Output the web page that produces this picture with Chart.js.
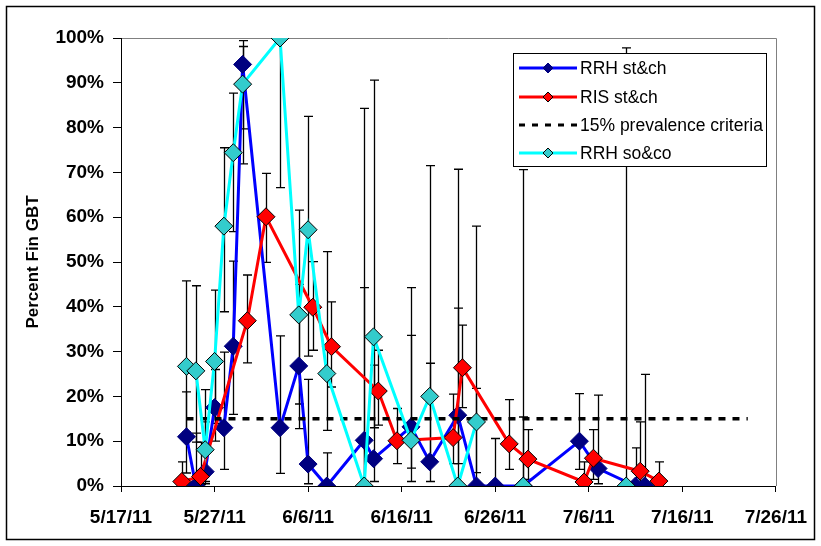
<!DOCTYPE html>
<html>
<head>
    <title>Percent Fin GBT</title>
    <script src="https://cdn.jsdelivr.net/npm/chart.js@4"></script>
    <style>
        body {
            margin: 0;
            background: #fff;
        }
        #wrap {
            width: 821px;
            height: 546px;
        }
    </style>
</head>
<body>
    <div id="wrap"><canvas id="chart" width="821" height="546"></canvas></div>

    <script>
        // x values are days after 5/17/11
        const xTickLabels = ["5/17/11", "5/27/11", "6/6/11", "6/16/11", "6/26/11", "7/6/11", "7/16/11", "7/26/11"];

        // RRH st&ch
        const rrhStDays   = [7, 8, 9, 10, 11, 12, 13, 17, 19, 20, 22, 26, 27, 31, 33, 36, 38, 40, 43, 49, 51, 55, 56];
        const rrhStValues = [11.0, 0, 3.2, 17.5, 13.0, 31.2, 94.1, 13.0, 26.8, 4.9, 0, 10.2, 6.1, 13.2, 5.4, 15.8, 0, 0, 0, 10.0, 3.9, 0, 0];
        const rrhStLow    = [2.9, null, 0.5, 10, 3.7, 16.0, 79.7, 2.8, 12.8, 0.5, null, 1, 1, 4, 1, 5, null, null, null, 3.7, 0.5, null, null];
        const rrhStHigh   = [21, 11.8, 14.3, 26, 29.9, 50.2, 99.4, 33.5, 45, 23.8, 7.4, 44.3, 27, 33.6, 27.4, 39.7, 21.8, 10.6, 15.4, 20.6, 20.3, 8.5, 24.9];

        // RIS st&ch
        const risStDays   = [6.5, 8.5, 13.5, 15.5, 20.5, 22.5, 27.5, 29.5, 35.5, 36.5, 41.5, 43.5, 49.5, 50.5, 55.5, 57.5];
        const risStValues = [1.0, 2.1, 36.9, 60.1, 39.9, 31.1, 21.2, 10.1, 10.8, 26.4, 9.4, 6.0, 0.9, 6.2, 3.3, 1.1];
        const risStLow    = [null, 0.3, 27.5, 49.9, 30.3, 22.1, 13.6, 5.0, 5.0, 17.5, 3.7, 1.5, null, 1.5, 0.5, null];
        const risStHigh   = [5.4, 9.8, 47.1, 69.8, 50.1, 41.1, 30.3, 17.3, 20.5, 35.9, 19.3, 12.6, 5.4, 12.6, 14.3, 5.4];

        // RRH so&co (null = no sample, line breaks)
        const rrhSoDays   = [7, 8, 9, 10, 11, 12, 13, 17, 19, 20, 22, 26, 27, 31, 33, 36, 38, 40, 43, 50, 54];
        const rrhSoValues = [26.7, 25.7, 8.1, 27.8, 58.0, 74.4, 89.7, 100, 38.2, 57.2, 25.1, 0, 33.3, 10.2, 20.0, 0, 14.3, null, 0, null, 0];
        const rrhSoLow    = [12, 9.8, 1, 14, 38.9, 56.8, 71.9, 66.6, 18.3, 29.0, 12.4, null, 13, 1, 5, null, 3, null, null, null, null];
        const rrhSoHigh   = [45.8, 44.7, 21.5, 43.7, 75.5, 87.7, 98.1, null, 61.6, 82.5, 52.3, 84.3, 90.6, 44.3, 71.5, 70.7, 58, null, 70.6, null, 97.8];

        // 15% prevalence criteria
        const criteriaDays = [7, 67];
        const criteriaLevel = 15;

        const FONT = "'Liberation Sans', Arial, sans-serif";

        function toPoints(days, values) {
            return days.map((d, i) => ({ x: d, y: values[i] }));
        }

        const errorSets = [
            { days: rrhStDays, low: rrhStLow, high: rrhStHigh },
            { days: risStDays, low: risStLow, high: risStHigh },
            { days: rrhSoDays, low: rrhSoLow, high: rrhSoHigh }
        ];

        const framePlugin = {
            id: "frame",
            beforeDraw(chart) {
                const ctx = chart.ctx;
                const a = chart.chartArea;
                ctx.save();
                ctx.fillStyle = "#fff";
                ctx.fillRect(0, 0, chart.width, chart.height);
                ctx.strokeStyle = "#000";
                ctx.lineWidth = 1.5;
                ctx.strokeRect(6.5, 6.5, 808, 533);
                ctx.strokeStyle = "#808080";
                ctx.lineWidth = 1;
                ctx.beginPath();
                ctx.moveTo(a.left, Math.round(a.top) + 0.5);
                ctx.lineTo(Math.round(a.right) + 0.5, Math.round(a.top) + 0.5);
                ctx.lineTo(Math.round(a.right) + 0.5, a.bottom);
                ctx.stroke();
                ctx.restore();
            }
        };

        const errorBarPlugin = {
            id: "errorBars",
            beforeDatasetsDraw(chart) {
                const ctx = chart.ctx;
                const xs = chart.scales.x, ys = chart.scales.y;
                ctx.save();
                ctx.strokeStyle = "#000";
                ctx.lineWidth = 1.3;
                errorSets.forEach(set => {
                    set.days.forEach((d, i) => {
                        const lo = set.low[i], hi = set.high[i];
                        if (lo === null && hi === null) return;
                        const px = Math.round(xs.getPixelForValue(d)) + 0.5;
                        const v = lo === null ? 0 : lo;
                        const top = ys.getPixelForValue(hi === null ? 100 : hi);
                        const bot = ys.getPixelForValue(v);
                        ctx.beginPath();
                        ctx.moveTo(px, top);
                        ctx.lineTo(px, bot);
                        if (hi !== null) {
                            ctx.moveTo(px - 4.5, top);
                            ctx.lineTo(px + 4.5, top);
                        }
                        if (lo !== null) {
                            ctx.moveTo(px - 4.5, bot);
                            ctx.lineTo(px + 4.5, bot);
                        }
                        ctx.stroke();
                    });
                });
                ctx.restore();
            }
        };

        const legendItems = [
            { text: "RRH st&ch", line: "#0000FF", fill: "#000080", stroke: "#000080" },
            { text: "RIS st&ch", line: "#FF0000", fill: "#FF0000", stroke: "#000" },
            { text: "15% prevalence criteria", dashed: true },
            { text: "RRH so&co", line: "#00FFFF", fill: "#33CCCC", stroke: "#000" }
        ];

        const legendPlugin = {
            id: "boxLegend",
            afterDraw(chart) {
                const ctx = chart.ctx;
                ctx.save();
                ctx.fillStyle = "#fff";
                ctx.fillRect(513, 53, 253, 113);
                ctx.strokeStyle = "#000";
                ctx.lineWidth = 1;
                ctx.strokeRect(513.5, 53.5, 253, 113);
                const rows = [68, 97, 125, 153];
                legendItems.forEach((it, i) => {
                    const y = rows[i];
                    ctx.beginPath();
                    ctx.lineWidth = 3;
                    if (it.dashed) {
                        ctx.strokeStyle = "#000";
                        ctx.setLineDash([6, 7]);
                    } else {
                        ctx.strokeStyle = it.line;
                        ctx.setLineDash([]);
                    }
                    ctx.moveTo(519, y);
                    ctx.lineTo(577, y);
                    ctx.stroke();
                    ctx.setLineDash([]);
                    if (!it.dashed) {
                        const r = 5;
                        ctx.beginPath();
                        ctx.moveTo(548 - r, y);
                        ctx.lineTo(548, y - r);
                        ctx.lineTo(548 + r, y);
                        ctx.lineTo(548, y + r);
                        ctx.closePath();
                        ctx.fillStyle = it.fill;
                        ctx.fill();
                        ctx.lineWidth = 1;
                        ctx.strokeStyle = it.stroke;
                        ctx.stroke();
                    }
                    ctx.fillStyle = "#000";
                    ctx.font = "17.5px " + FONT;
                    ctx.textBaseline = "middle";
                    ctx.textAlign = "left";
                    ctx.fillText(it.text, 580, y + 1);
                });
                ctx.restore();
            }
        };

        const ctx = document.getElementById("chart").getContext("2d");
        new Chart(ctx, {
            type: "line",
            data: {
                datasets: [
                    {
                        label: "RRH so&co",
                        data: toPoints(rrhSoDays, rrhSoValues),
                        borderColor: "#00FFFF",
                        borderWidth: 3,
                        pointStyle: "rectRot",
                        pointRadius: 9,
                        pointBackgroundColor: "#33CCCC",
                        pointBorderColor: "#000",
                        pointBorderWidth: 1,
                        order: 0
                    },
                    {
                        label: "15% prevalence criteria",
                        data: criteriaDays.map(d => ({ x: d, y: criteriaLevel })),
                        borderColor: "#000",
                        borderWidth: 3.5,
                        borderDash: [7, 7],
                        pointRadius: 0,
                        order: 1
                    },
                    {
                        label: "RIS st&ch",
                        data: toPoints(risStDays, risStValues),
                        borderColor: "#FF0000",
                        borderWidth: 3,
                        pointStyle: "rectRot",
                        pointRadius: 9,
                        pointBackgroundColor: "#FF0000",
                        pointBorderColor: "#000",
                        pointBorderWidth: 1,
                        order: 2
                    },
                    {
                        label: "RRH st&ch",
                        data: toPoints(rrhStDays, rrhStValues),
                        borderColor: "#0000FF",
                        borderWidth: 3,
                        pointStyle: "rectRot",
                        pointRadius: 9,
                        pointBackgroundColor: "#000080",
                        pointBorderColor: "#000080",
                        pointBorderWidth: 1,
                        order: 3
                    }
                ]
            },
            options: {
                responsive: false,
                animation: false,
                spanGaps: false,
                layout: { padding: { left: 0, right: 44, top: 38, bottom: 0 } },
                plugins: {
                    legend: { display: false },
                    tooltip: { enabled: false }
                },
                scales: {
                    x: {
                        type: "linear",
                        min: 0,
                        max: 70,
                        afterFit: s => { s.height = 60; },
                        ticks: {
                            stepSize: 10,
                            autoSkip: false,
                            maxRotation: 0,
                            padding: 14,
                            color: "#000",
                            font: { family: FONT, size: 19, weight: "bold" },
                            callback: v => xTickLabels[Math.round(v / 10)]
                        },
                        grid: { drawOnChartArea: false, drawTicks: true, tickLength: 6, tickColor: "#000" },
                        border: { color: "#000", width: 1 }
                    },
                    y: {
                        min: 0,
                        max: 100,
                        afterFit: s => { s.width = 121; },
                        ticks: {
                            stepSize: 10,
                            padding: 9,
                            color: "#000",
                            font: { family: FONT, size: 19, weight: "bold" },
                            callback: v => v + "%"
                        },
                        grid: { drawOnChartArea: false, drawTicks: true, tickLength: 8, tickColor: "#000" },
                        border: { color: "#000", width: 1 },
                        title: {
                            display: true,
                            text: "Percent Fin GBT",
                            color: "#000",
                            padding: { top: 23, bottom: 0 },
                            font: { family: FONT, size: 17, weight: "bold" }
                        }
                    }
                }
            },
            plugins: [framePlugin, errorBarPlugin, legendPlugin]
        });
    </script>
</body>
</html>
